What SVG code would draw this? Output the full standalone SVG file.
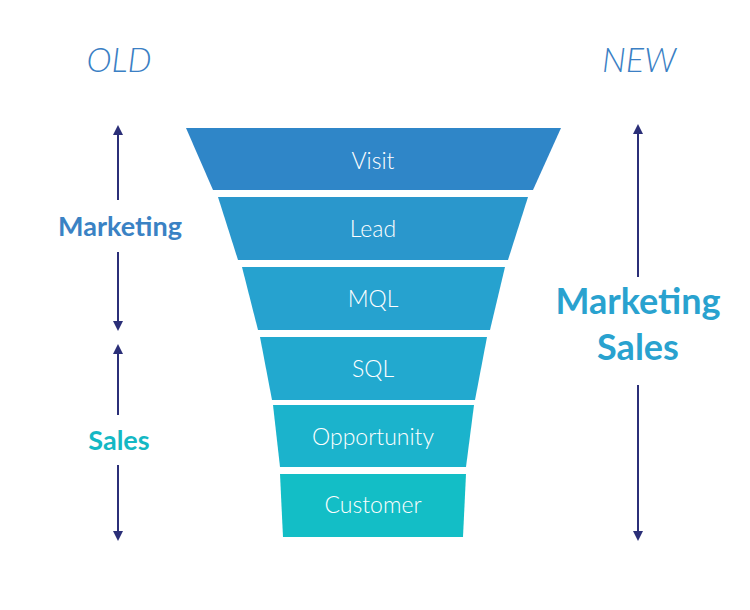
<svg xmlns="http://www.w3.org/2000/svg" width="750" height="610" viewBox="0 0 750 610">
<style>
.band text{font-family:"Lato","Liberation Sans",sans-serif;font-size:23px;fill:#fff;text-anchor:middle;font-weight:300}
.hd{font-family:"Lato","Liberation Sans",sans-serif;font-size:34px;font-style:italic;fill:#3b7fc4;text-anchor:middle;font-weight:300}
.lbl{font-family:"Lato","Liberation Sans",sans-serif;text-anchor:middle;font-weight:bold}
.ar{stroke:#2b2f78;stroke-width:2;fill:none}
</style>
<defs>
<marker id="ah" markerWidth="10" markerHeight="10" refX="5" refY="5" orient="auto" markerUnits="userSpaceOnUse"><path d="M0,0 L10,5 L0,10 Z" fill="#2b2f78"/></marker>
</defs>
<rect width="750" height="610" fill="#fff"/>
<text class="hd" x="119" y="72">OLD</text>
<text class="hd" x="639" y="72">NEW</text>
<g id="visit" class="band"><polygon points="186,128 561,128 533,190 213,190" fill="#2f86c8"/><text x="373" y="169">Visit</text></g>
<g id="lead" class="band"><polygon points="218,197 528,197 508,260 238,260" fill="#2a97cc"/><text x="373" y="237">Lead</text></g>
<g id="mql" class="band"><polygon points="242,267 505,267 490,330 258,330" fill="#26a2cf"/><text x="373" y="307">MQL</text></g>
<g id="sql" class="band"><polygon points="260,337 487,337 475,400 272,400" fill="#22a9cf"/><text x="373" y="377">SQL</text></g>
<g id="opportunity" class="band"><polygon points="273,405 474,405 466,467 280,467" fill="#1bb3cc"/><text x="373" y="445">Opportunity</text></g>
<g id="customer" class="band"><polygon points="280,474 466,474 463,537 283,537" fill="#13bec6"/><text x="373" y="513">Customer</text></g>
<text class="lbl" x="120" y="236" font-size="27" fill="#3a82c4">Marketing</text>
<text class="lbl" x="119" y="450" font-size="27" fill="#14b8c4">Sales</text>
<text class="lbl" x="638" y="314" font-size="36" fill="#29a2cf">Marketing</text>
<text class="lbl" x="638" y="360" font-size="36" fill="#29a2cf">Sales</text>
<g id="connectors">
<line class="ar" x1="118" y1="200" x2="118" y2="130" marker-end="url(#ah)"/>
<line class="ar" x1="118" y1="252" x2="118" y2="326" marker-end="url(#ah)"/>
<line class="ar" x1="118" y1="415" x2="118" y2="349" marker-end="url(#ah)"/>
<line class="ar" x1="118" y1="465" x2="118" y2="536" marker-end="url(#ah)"/>
<line class="ar" x1="638" y1="277" x2="638" y2="129" marker-end="url(#ah)"/>
<line class="ar" x1="638" y1="385" x2="638" y2="536" marker-end="url(#ah)"/>
</g>
</svg>
